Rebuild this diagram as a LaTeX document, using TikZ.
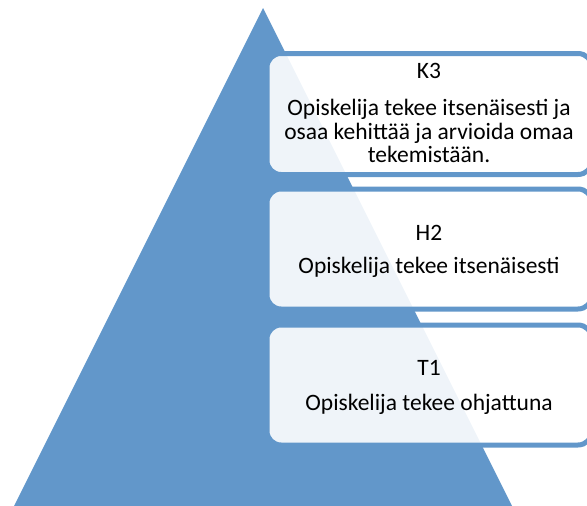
\documentclass[tikz,border=0pt]{standalone}
\usepackage{fontspec}
\setmainfont{Carlito}
\definecolor{pyrblue}{HTML}{6297CA}
\tikzset{
  levelbox/.style={draw=pyrblue, line width=5pt, rounded corners=14pt, fill=white, fill opacity=0.9, draw opacity=1, minimum width=325pt, inner sep=0pt},
  boxtext/.style={anchor=base, inner sep=0pt, font=\fontsize{23.5}{27}\selectfont, align=center, text=black}
}
\begin{document}
\begin{tikzpicture}[x=1pt,y=-1pt]
\useasboundingbox (0,0) rectangle (587,506);
\begin{scope}
\clip (0,0) rectangle (587,506);
\fill[pyrblue] (263,8) coordinate (apex) -- (512,506) -- (14,506) -- cycle;
\node[levelbox, minimum height=121pt] (b3) at (429.5,114) {};
\node[levelbox, minimum height=120pt] (b2) at (429.5,249) {};
\node[levelbox, minimum height=120pt] (b1) at (429.5,385) {};
\end{scope}
\node[boxtext] (k3) at (429,78.5) {K3};
\node[boxtext] (k3a) at (429,115) {Opiskelija tekee itsenäisesti ja};
\node[boxtext] (k3b) at (429,139.5) {osaa kehittää ja arvioida omaa};
\node[boxtext] (k3c) at (429,162.5) {tekemistään.};
\node[boxtext] (h2) at (429,240) {H2};
\node[boxtext] (h2a) at (429,273.5) {Opiskelija tekee itsenäisesti};
\node[boxtext] (t1) at (429,375.5) {T1};
\node[boxtext] (t1a) at (429,410) {Opiskelija tekee ohjattuna};
\end{tikzpicture}
\end{document}
